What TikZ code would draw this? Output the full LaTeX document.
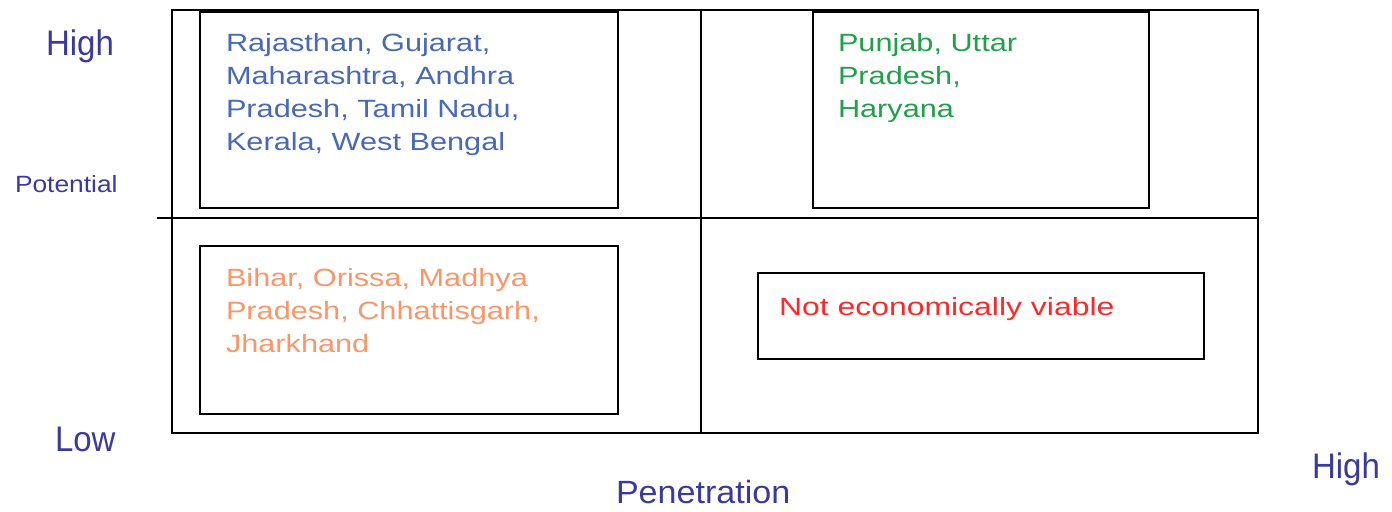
\documentclass[tikz,border=0pt]{standalone}
\usepackage{fontspec}
\setmainfont{Liberation Sans}
\newfontfamily\statefont[FakeStretch=1.23]{Liberation Sans}
\newfontfamily\redfont[FakeStretch=1.28]{Liberation Sans}
\newfontfamily\axisfont[FakeStretch=0.93]{Liberation Sans}
\newfontfamily\penfont[FakeStretch=1.06]{Liberation Sans}
\newfontfamily\potfont[FakeStretch=1.12]{Liberation Sans}
\definecolor{axisblue}{RGB}{58,58,158}
\definecolor{stateblue}{RGB}{72,104,188}
\definecolor{stategreen}{RGB}{32,160,72}
\definecolor{stateorange}{RGB}{250,150,104}
\definecolor{statered}{RGB}{255,40,40}
\tikzset{
  frame/.style={line width=1.1pt, draw=black},
  box/.style={draw=black, line width=1.1pt, rectangle, inner sep=0pt, outer sep=0pt},
  statetext/.style={anchor=base west, inner sep=0pt, outer sep=0pt, align=left,
     font=\statefont\fontsize{14.2}{18.7}\selectfont},
  axislabel/.style={anchor=base west, inner sep=0pt, outer sep=0pt, text=axisblue,
     font=\axisfont\fontsize{20.2}{24}\selectfont},
}
\begin{document}
\begin{tikzpicture}[x=0.02cm, y=-0.02cm]
\useasboundingbox (0,0) rectangle (1392,511);
% frame and dividers
\coordinate (otl) at (172,10);
\coordinate (obr) at (1258,433);
\coordinate (vt) at (701,10);
\coordinate (vb) at (701,433);
\coordinate (hl) at (157,218);
\coordinate (hr) at (1258,218);
\draw[frame] (otl) rectangle (obr);
\draw[frame] (vt) -- (vb);
\draw[frame] (hl) -- (hr);
% quadrant boxes
\node[box, minimum width=8.36cm, minimum height=3.92cm] (tlbox) at (409,110) {};
\node[box, minimum width=6.72cm, minimum height=3.92cm] (trbox) at (981,110) {};
\node[box, minimum width=8.36cm, minimum height=3.36cm] (blbox) at (409,330) {};
\node[box, minimum width=8.92cm, minimum height=1.72cm] (brbox) at (981,316) {};
% texts (anchored at the baseline of their last line)
\node[statetext, text=stateblue] (tltext) at (226,150)
  {Rajasthan, Gujarat,\\Maharashtra, Andhra\\Pradesh, Tamil Nadu,\\Kerala, West Bengal};
\node[statetext, text=stategreen] (trtext) at (838,117)
  {Punjab, Uttar\\Pradesh,\\Haryana};
\node[statetext, text=stateorange] (bltext) at (226,352)
  {Bihar, Orissa, Madhya\\Pradesh, Chhattisgarh,\\Jharkhand};
\node[statetext, text=statered, font=\redfont\fontsize{14.2}{18.7}\selectfont] (brtext) at (779,315) {Not economically viable};
% axis labels
\node[axislabel] (hightop) at (46,55) {High};
\node[axislabel, font=\potfont\fontsize{13.4}{16}\selectfont] (pot) at (15,192) {Potential};
\node[axislabel] (low) at (55,451) {Low};
\node[axislabel] (highright) at (1312,478) {High};
\node[axislabel, font=\penfont\fontsize{18.3}{22}\selectfont] (pen) at (616,503) {Penetration};
\end{tikzpicture}
\end{document}
